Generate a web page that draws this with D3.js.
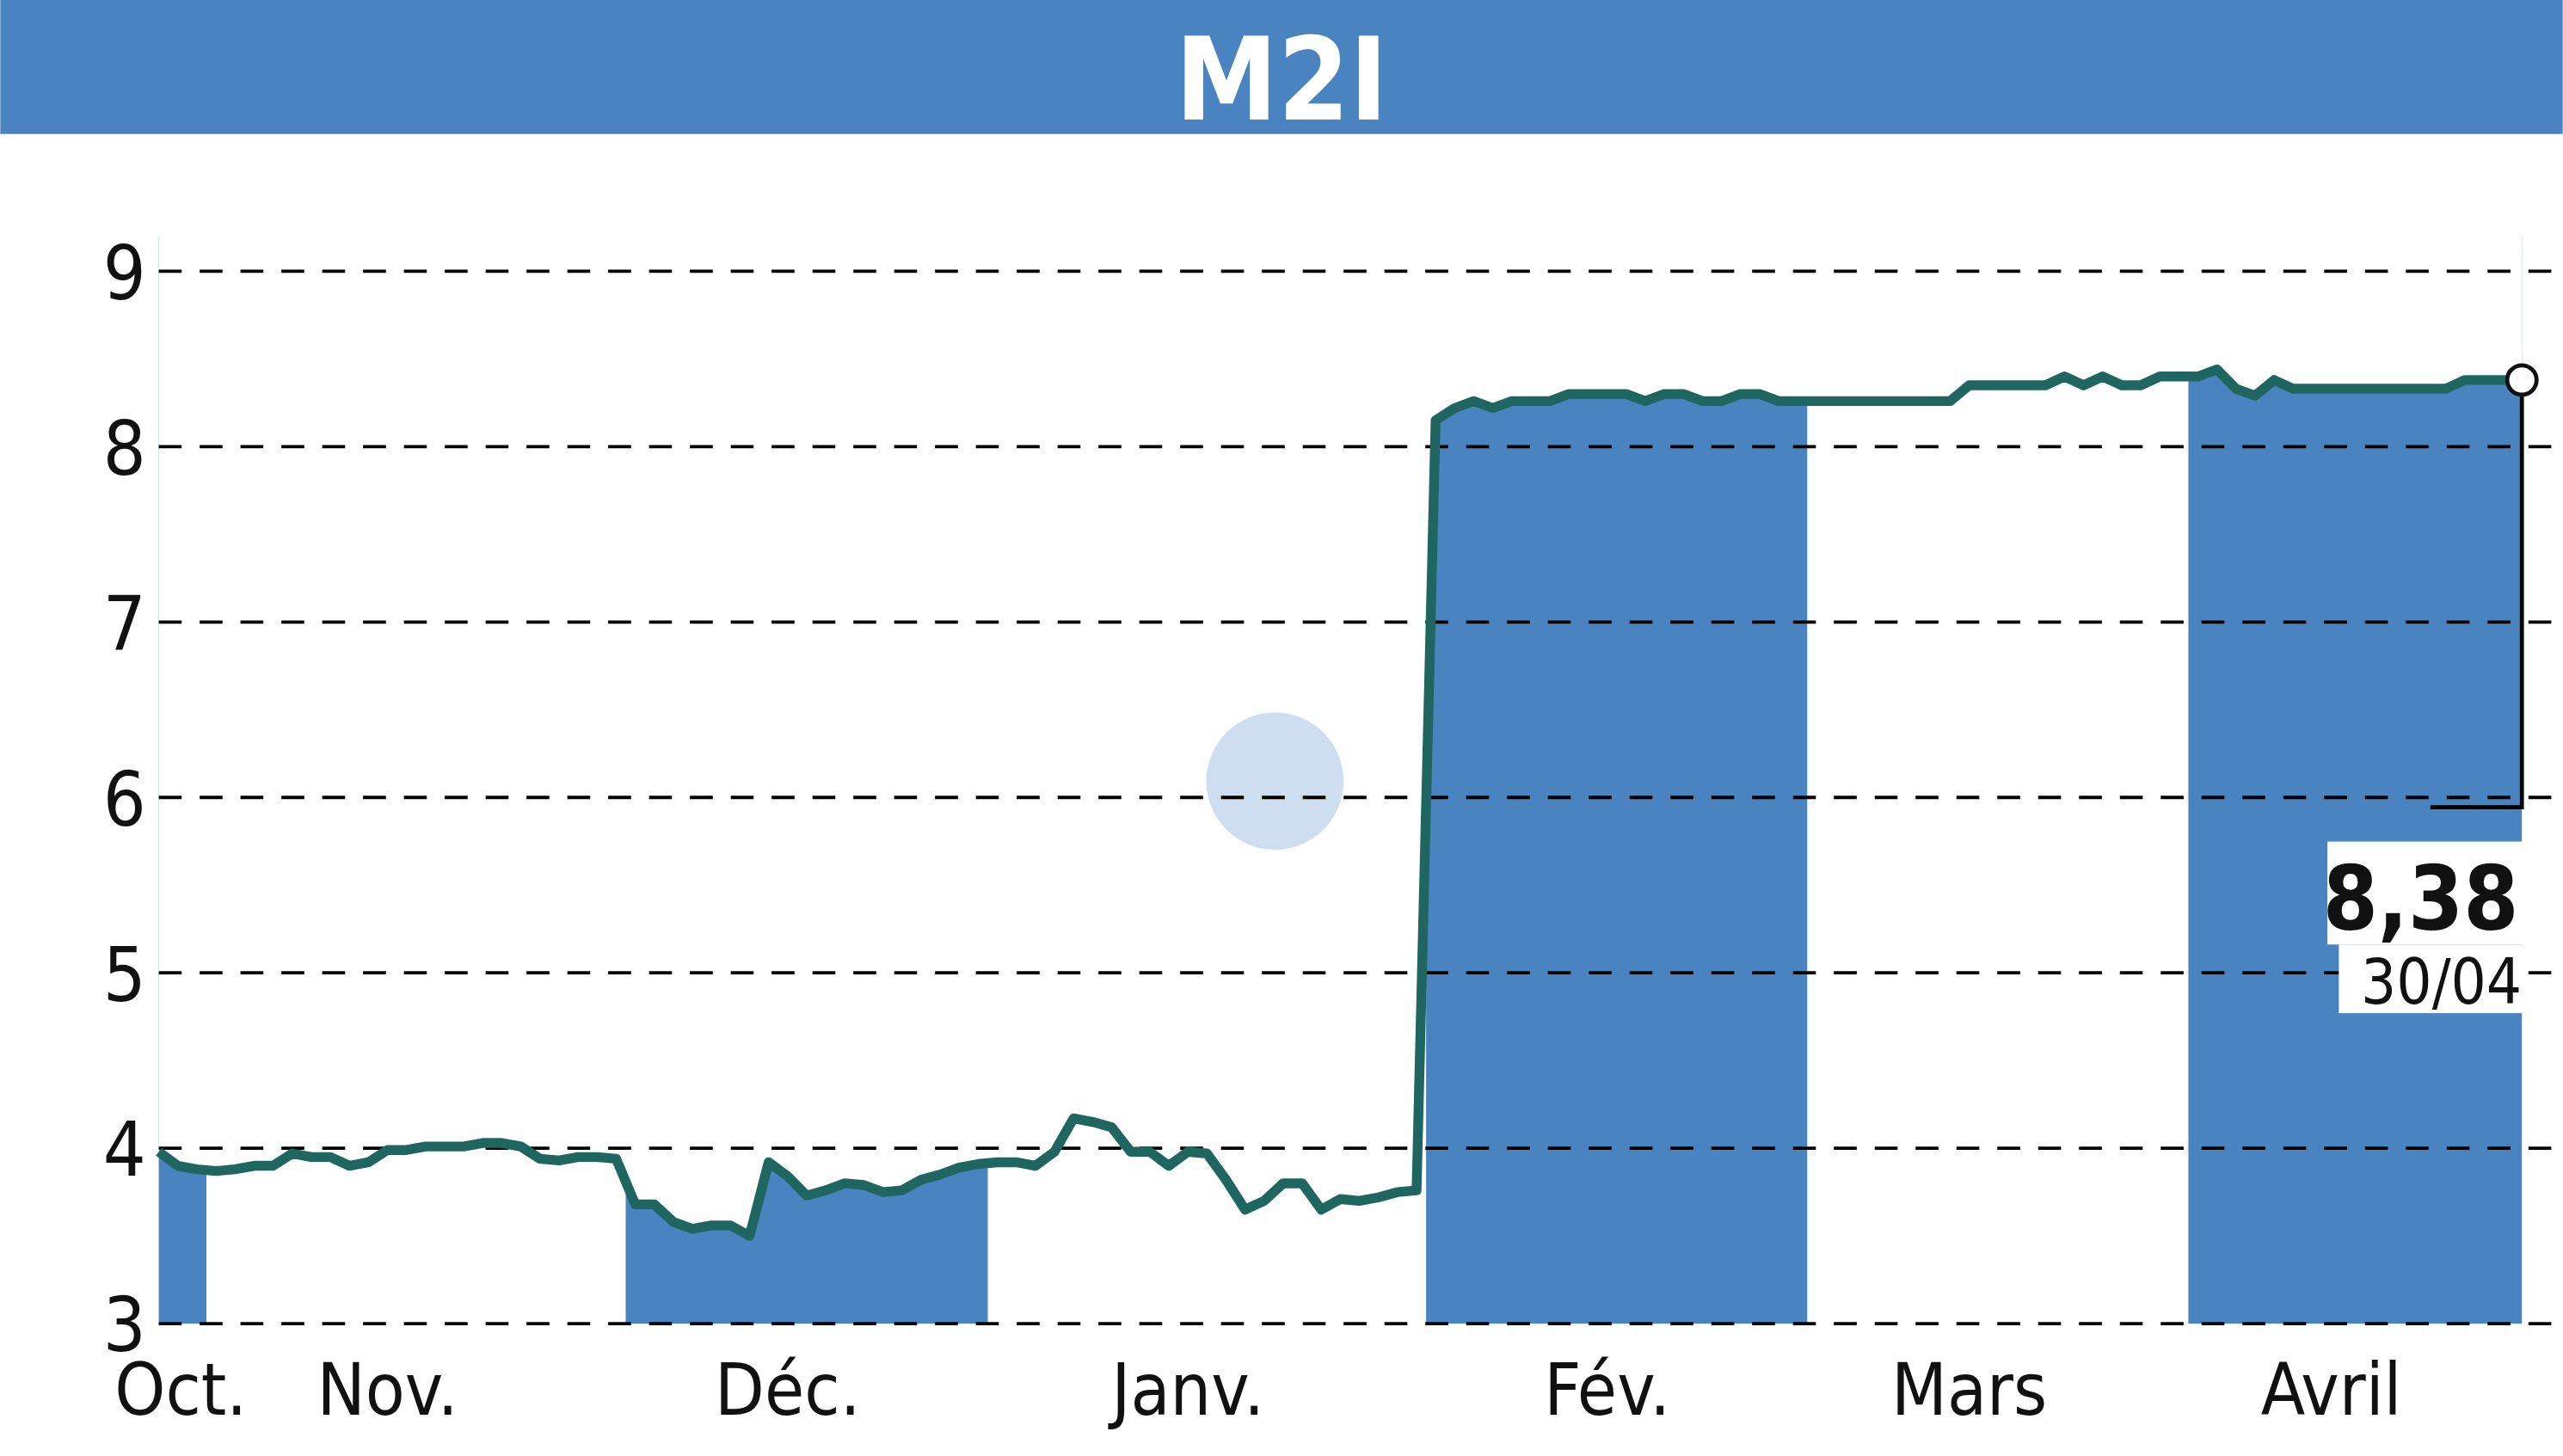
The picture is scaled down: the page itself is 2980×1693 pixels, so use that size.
<!DOCTYPE html>
<html><head><meta charset="utf-8">
<script src="https://cdn.jsdelivr.net/npm/d3@7"></script>
<style>body{margin:0;background:#fff}svg{display:block}text{font-family:"DejaVu Sans Condensed","DejaVu Sans",sans-serif;font-stretch:condensed}</style>
</head><body><div id="plot"></div>
<script>
const title = "M2I";
const yTicks = [3, 4, 5, 6, 7, 8, 9];
const months = ["Oct.", "Nov.", "Déc.", "Janv.", "Fév.", "Mars", "Avril"];
const monthStart = [0, 3, 25, 44, 67, 87, 107];
const monthLabelX = [0, 12, 33, 54, 76, 95, 114];
const prices = [
  3.98, 3.90, 3.88,
  3.87, 3.88, 3.90, 3.90, 3.97, 3.95, 3.95, 3.90, 3.92, 3.99, 3.99, 4.01, 4.01, 4.01, 4.03, 4.03, 4.01, 3.94, 3.93, 3.95, 3.95, 3.94,
  3.68, 3.68, 3.58, 3.54, 3.56, 3.56, 3.50, 3.92, 3.84, 3.73, 3.76, 3.80, 3.79, 3.75, 3.76, 3.82, 3.85, 3.89, 3.91,
  3.92, 3.92, 3.90, 3.98, 4.17, 4.15, 4.12, 3.98, 3.98, 3.90, 3.98, 3.97, 3.82, 3.65, 3.70, 3.80, 3.80, 3.65, 3.71, 3.70, 3.72, 3.75, 3.76,
  8.15, 8.22, 8.26, 8.22, 8.26, 8.26, 8.26, 8.30, 8.30, 8.30, 8.30, 8.26, 8.30, 8.30, 8.26, 8.26, 8.30, 8.30, 8.26, 8.26,
  8.26, 8.26, 8.26, 8.26, 8.26, 8.26, 8.26, 8.26, 8.35, 8.35, 8.35, 8.35, 8.35, 8.40, 8.35, 8.40, 8.35, 8.35, 8.40, 8.40,
  8.40, 8.44, 8.33, 8.29, 8.38, 8.33, 8.33, 8.33, 8.33, 8.33, 8.33, 8.33, 8.33, 8.33, 8.38, 8.38, 8.38, 8.38
];
const lastLabel = "8,38";
const lastDate = "30/04";

const W = 1568, H = 891;
const blue = "#4a84c0", lineCol = "#1f6660";
const svg = d3.select("#plot").append("svg")
  .attr("width", 2980).attr("height", 1693)
  .attr("viewBox", `0 0 ${W} ${H}`);

const n = prices.length;
const x = d3.scaleLinear().domain([0, n - 1]).range([97, 1543]);
const y = d3.scaleLinear().domain([3, 9]).range([810, 166]);

// title band
svg.append("rect").attr("width", W).attr("height", 82).attr("fill", blue);
svg.append("text").attr("x", W / 2).attr("y", 73).attr("text-anchor", "middle")
  .attr("fill", "#fff").attr("font-size", 70).attr("font-weight", "bold").text(title);

// month bands (every other month)
monthStart.forEach((s, k) => {
  if (k % 2) return;
  const e = k + 1 < monthStart.length ? monthStart[k + 1] - 1 : n - 1;
  const x0 = Math.max(x(0), x(s - 0.5)), x1 = Math.min(x(n - 1), x(e + 0.5));
  svg.append("rect").attr("x", x0).attr("y", y(9.2)).attr("width", x1 - x0)
    .attr("height", y(3) - y(9.2)).attr("fill", blue);
});

// white area above the line hides band tops
const above = d3.area().x((d, i) => x(i)).y0(90).y1(d => y(d));
svg.append("path").datum(prices).attr("d", above).attr("fill", "#fff");

// watermark
svg.append("circle").attr("cx", 780).attr("cy", 478).attr("r", 42).attr("fill", "#aec7e6").attr("opacity", 0.6);

// grid
svg.selectAll(".grid").data(yTicks).join("line").attr("class", "grid")
  .attr("x1", 97).attr("x2", W).attr("y1", d => y(d)).attr("y2", d => y(d))
  .attr("stroke", "#000").attr("stroke-width", 2).attr("stroke-dasharray", "14,11");
svg.selectAll(".ytl").data(yTicks).join("text").attr("class", "ytl")
  .attr("x", 76).attr("y", d => y(d) + 17).attr("text-anchor", "middle")
  .attr("font-size", 46).attr("fill", "#111").text(d => d);

// month labels
svg.selectAll(".mtl").data(months).join("text").attr("class", "mtl")
  .attr("x", (d, i) => i === 0 ? 70 : x(monthLabelX[i])).attr("y", 866)
  .attr("text-anchor", (d, i) => i === 0 ? "start" : "middle")
  .attr("font-size", 44).attr("fill", "#111").text(d => d);

// price line
const line = d3.line().x((d, i) => x(i)).y(d => y(d));
svg.append("path").datum(prices).attr("d", line).attr("fill", "none")
  .attr("stroke", lineCol).attr("stroke-width", 6).attr("stroke-linejoin", "round");

// callout
const ex = x(n - 1), ey = y(prices[n - 1]);
svg.append("path").attr("d", `M${ex},${ey} V494 H1487`).attr("fill", "none")
  .attr("stroke", "#000").attr("stroke-width", 2.5);
svg.append("circle").attr("cx", ex).attr("cy", ey).attr("r", 9)
  .attr("fill", "#fff").attr("stroke", "#111").attr("stroke-width", 2.5);
svg.append("rect").attr("x", 1424).attr("y", 515).attr("width", 121).attr("height", 63).attr("fill", "#fff");
svg.append("rect").attr("x", 1431).attr("y", 578).attr("width", 114).attr("height", 42).attr("fill", "#fff");
svg.append("text").attr("x", 1541).attr("y", 569).attr("text-anchor", "end")
  .attr("font-size", 54).attr("font-weight", "bold").attr("fill", "#111").text(lastLabel);
svg.append("text").attr("x", 1543).attr("y", 614).attr("text-anchor", "end")
  .attr("font-size", 38).attr("fill", "#111").text(lastDate);
</script></body></html>
